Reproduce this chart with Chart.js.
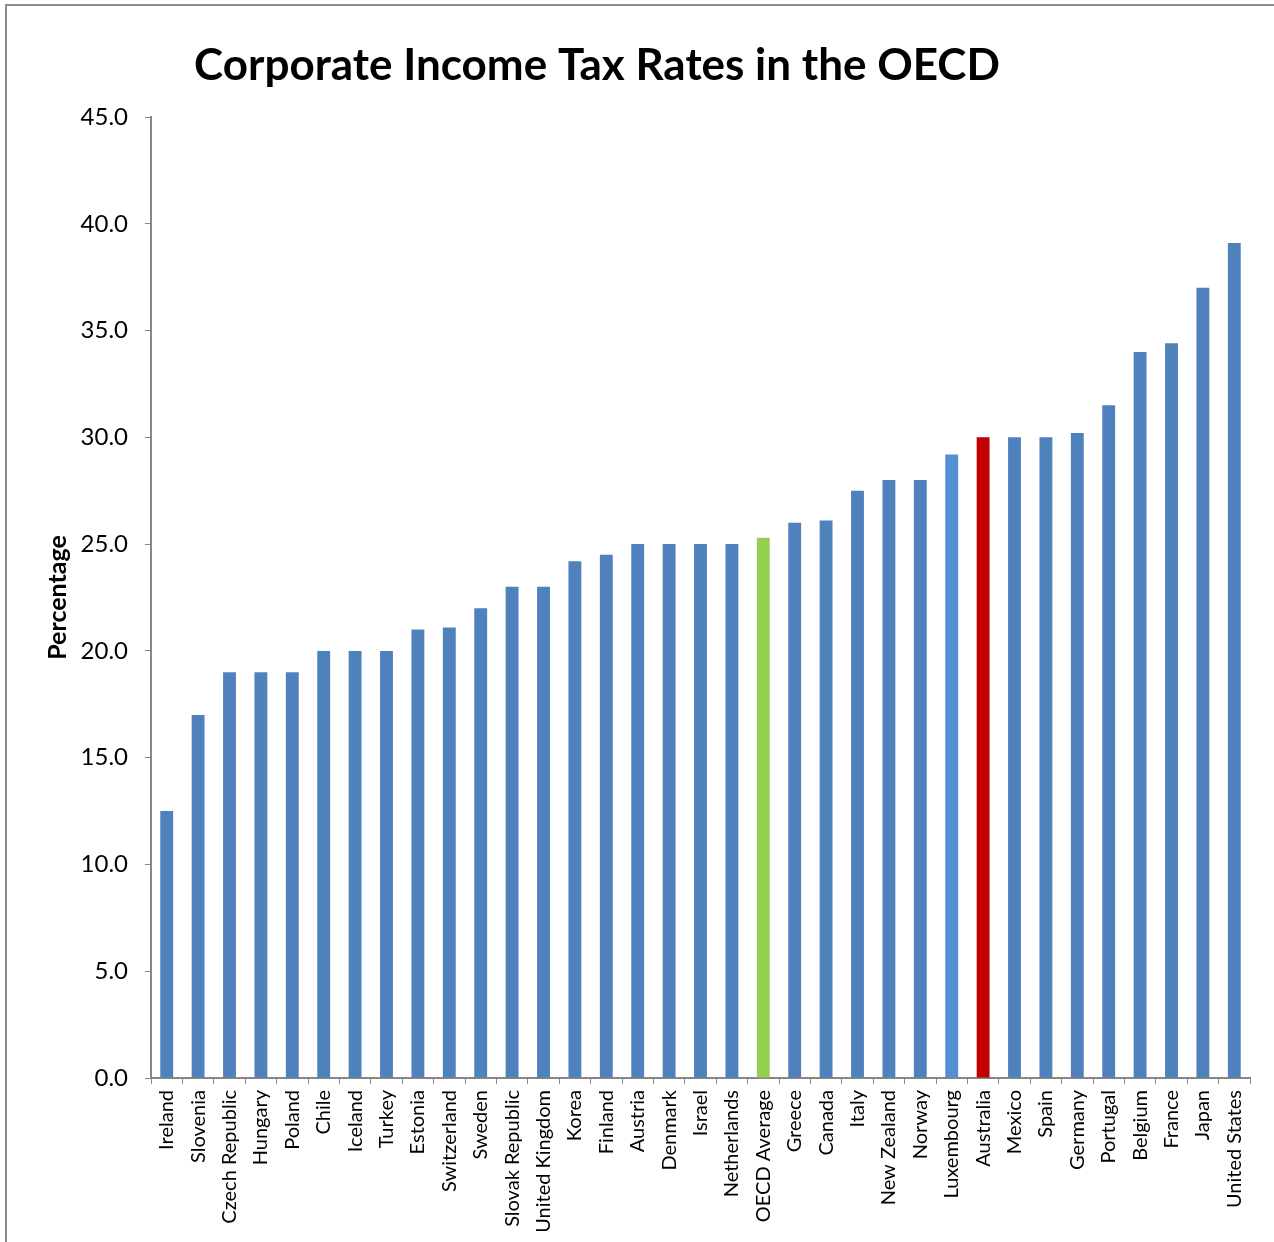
<!DOCTYPE html>
<html>
<head>
<meta charset="utf-8">
<title>Corporate Income Tax Rates in the OECD</title>
<script src="https://cdn.jsdelivr.net/npm/chart.js@4/dist/chart.umd.min.js"></script>
<style>
  html, body { margin: 0; padding: 0; background: #fff; }
  #frame {
    position: absolute; left: 5px; top: 4px;
    width: 1300px; height: 1300px;
    border: 2px solid #8c8c8c; box-sizing: border-box;
  }
  #my-chart { position: absolute; left: 0; top: 0; }
</style>
</head>
<body>
<div id="frame"></div>
<canvas id="my-chart" width="1274" height="1242"></canvas>
<script>
'use strict';

// *********** DATA ****************

let countries = ['Ireland','Slovenia','Czech Republic','Hungary','Poland','Chile','Iceland','Turkey','Estonia','Switzerland','Sweden','Slovak Republic','United Kingdom','Korea','Finland','Austria','Denmark','Israel','Netherlands','OECD Average','Greece','Canada','Italy','New Zealand','Norway','Luxembourg','Australia','Mexico','Spain','Germany','Portugal','Belgium','France','Japan','United States'];
let taxRates = [12.5,17.0,19.0,19.0,19.0,20.0,20.0,20.0,21.0,21.1,22.0,23.0,23.0,24.2,24.5,25.0,25.0,25.0,25.0,25.3,26.0,26.1,27.5,28.0,28.0,29.2,30.0,30.0,30.0,30.2,31.5,34.0,34.4,37.0,39.1];
let yTicks = [0,5,10,15,20,25,30,35,40,45];

let chartTitle = 'Corporate Income Tax Rates in the OECD';
let yTitle = 'Percentage';

// ********** COLOURS ********************
function barColor(name){
  if(name === 'OECD Average'){ return '#92D050'; }
  if(name === 'Australia'){ return '#C00000'; }
  if(name === 'Luxembourg'){ return '#558ED5'; }
  return '#4F81BD';
}
let barColors = countries.map(barColor);

let axisGray = '#868686';
let fontFam = 'Lato, "Open Sans", sans-serif';

// draw the title by hand so it can sit left of centre like the original
let titlePlugin = {
  id: 'bigTitle',
  afterDraw(chart){
    let c = chart.ctx;
    c.save();
    c.font = 'bold 44px ' + fontFam;
    c.fillStyle = '#000';
    c.textAlign = 'center';
    c.textBaseline = 'middle';
    c.fillText(chartTitle, 597, 66);
    c.restore();
  }
};

let ctx = document.getElementById('my-chart').getContext('2d');

new Chart(ctx, {
  type: 'bar',
  data: {
    labels: countries,
    datasets: [{
      label: 'Corporate tax rate',
      data: taxRates,
      backgroundColor: barColors,
      borderWidth: 0,
      categoryPercentage: 1.0,
      barPercentage: 0.41
    }]
  },
  options: {
    responsive: false,
    animation: false,
    layout: { padding: { left: 43, right: 24, top: 117, bottom: 0 } },
    plugins: {
      legend: { display: false },
      title: { display: false },
      tooltip: { enabled: false }
    },
    scales: {
      x: {
        grid: { drawOnChartArea: false, drawTicks: true, tickLength: 6, color: axisGray, offset: true },
        border: { display: true, color: axisGray, width: 2 },
        ticks: {
          autoSkip: false, maxRotation: 90, minRotation: 90, padding: 6,
          color: '#000', font: { family: fontFam, size: 20 }
        },
        afterFit(scale){ scale.height = 1242 - 1078; }
      },
      y: {
        min: 0, max: 45,
        afterBuildTicks(scale){ scale.ticks = yTicks.map(v => ({ value: v })); },
        grid: { drawOnChartArea: false, drawTicks: true, tickLength: 6, color: axisGray },
        border: { display: true, color: axisGray, width: 2 },
        ticks: {
          padding: 17, color: '#000',
          font: { family: fontFam, size: 24 },
          callback: v => v.toFixed(1)
        },
        title: {
          display: true, text: yTitle, color: '#000',
          font: { family: fontFam, size: 25, weight: 'bold' },
          padding: { top: 0, bottom: 0 }
        },
        afterFit(scale){ scale.width = 151 - 43; }
      }
    }
  },
  plugins: [titlePlugin]
});
</script>
</body>
</html>
